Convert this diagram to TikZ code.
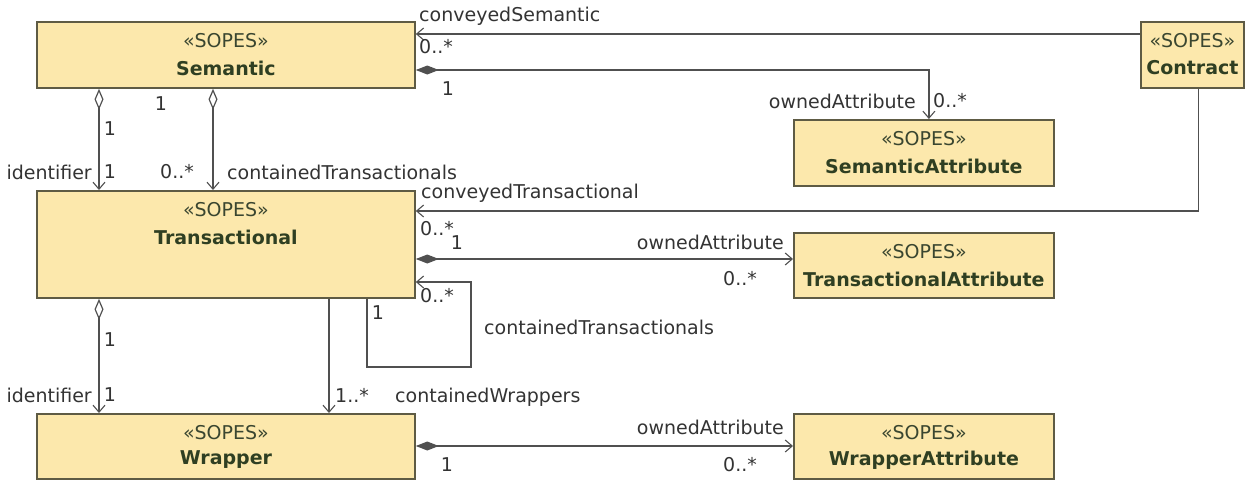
\documentclass[tikz,border=0pt]{standalone}
\usepackage{fontspec}
\setmainfont{DejaVu Sans}
\usetikzlibrary{arrows.meta,calc}
\definecolor{boxfill}{HTML}{FCE8AC}
\definecolor{boxline}{HTML}{5E5B44}
\definecolor{linecol}{HTML}{505050}
\definecolor{namecol}{HTML}{2F3F22}
\definecolor{stcol}{HTML}{3A4630}
\definecolor{lblcol}{HTML}{333333}
\begin{document}
\begin{tikzpicture}[x=1pt,y=-1pt,
  font=\fontsize{19}{22}\selectfont,
  umlbox/.style={draw=boxline, line width=1.8pt, fill=boxfill, inner sep=0pt, anchor=north west},
  st/.style={text=stcol, inner sep=0pt},
  nm/.style={text=namecol, inner sep=0pt, font=\fontsize{19}{22}\selectfont\bfseries},
  lbl/.style={text=lblcol, inner sep=0pt},
  conn/.style={draw=linecol, line width=1.4pt},
  opn/.style={conn, -{Straight Barb[length=7pt,width=12pt,line width=1.1pt]}},
  aggr/.style={conn, {Diamond[open,length=21pt,width=9pt,line width=1.2pt]}-{Straight Barb[length=7pt,width=12pt,line width=1.1pt]}},
  comp/.style={conn, {Diamond[length=23pt,width=9pt]}-{Straight Barb[length=7pt,width=12pt,line width=1.1pt]}}
]
\useasboundingbox (0,0) rectangle (1249,480);

% boxes
\node[umlbox, minimum width=378pt, minimum height=66pt] (sem) at (36,21) {};
\node[umlbox, minimum width=378pt, minimum height=107pt] (tra) at (36,190) {};
\node[umlbox, minimum width=378pt, minimum height=65pt] (wra) at (36,413) {};
\node[umlbox, minimum width=103pt, minimum height=66pt] (con) at (1140,21) {};
\node[umlbox, minimum width=260pt, minimum height=66pt] (sa) at (793,119) {};
\node[umlbox, minimum width=260pt, minimum height=65pt] (ta) at (793,232) {};
\node[umlbox, minimum width=260pt, minimum height=65pt] (wa) at (793,413) {};

% box texts
\foreach \b/\n in {sem/Semantic, tra/Transactional, wra/Wrapper, con/Contract, sa/SemanticAttribute, ta/TransactionalAttribute, wa/WrapperAttribute}{
  \node[st] (\b-st) at ($(\b.north)+(0,20)$) {«SOPES»};
  \node[nm] (\b-nm) at ($(\b.north)+(0,47)$) {\n};
}

% conveyedSemantic
\draw[opn] ($(con.north west)+(0,13)$) -- ($(sem.north east)+(0,13)$);
\node[lbl, anchor=west] (l1) at (419,16) {conveyedSemantic};
\node[lbl, anchor=west] (l2) at (419,47) {0..*};

% Semantic -> SemanticAttribute
\draw[comp] ($(sem.north east)+(0,49)$) -| ($(sa.north)+(5,0)$);
\node[lbl] (l3) at (448,89) {1};
\node[lbl, anchor=east] (l4) at (916,101) {ownedAttribute};
\node[lbl, anchor=west] (l5) at (933,101) {0..*};

% Semantic -> Transactional (identifier)
\draw[aggr] ($(sem.south west)+(63,0)$) -- ($(tra.north west)+(63,0)$);
\node[lbl] (l6) at (110,129) {1};
\node[lbl, anchor=east] (l7) at (92,172) {identifier};
\node[lbl] (l8) at (110,172) {1};

% Semantic -> Transactional (containedTransactionals)
\draw[aggr] ($(sem.south west)+(177,0)$) -- ($(tra.north west)+(177,0)$);
\node[lbl] (l9) at (161,104) {1};
\node[lbl] (l10) at (177,172) {0..*};
\node[lbl, anchor=west] (l11) at (227,172) {containedTransactionals};

% conveyedTransactional
\draw[opn] ($(con.south)+(6,0)$) |- ($(tra.north east)+(0,21)$);
\node[lbl, anchor=west] (l12) at (421,193) {conveyedTransactional};
\node[lbl, anchor=west] (l13) at (420,229) {0..*};

% Transactional -> TransactionalAttribute
\draw[comp] ($(tra.north east)+(0,69)$) -- ($(ta.north west)+(0,27)$);
\node[lbl] (l14) at (457,243) {1};
\node[lbl, anchor=east] (l15) at (784,242) {ownedAttribute};
\node[lbl] (l16) at (740,279) {0..*};

% self loop
\draw[opn] ($(tra.south west)+(331,0)$) -- ++(0,68) -- ++(104,0) |- ($(tra.north east)+(0,92)$);
\node[lbl] (l17) at (378,313) {1};
\node[lbl, anchor=west] (l18) at (420,296) {0..*};
\node[lbl, anchor=west] (l19) at (484,327) {containedTransactionals};

% Transactional -> Wrapper (identifier)
\draw[aggr] ($(tra.south west)+(63,0)$) -- ($(wra.north west)+(63,0)$);
\node[lbl] (l20) at (110,340) {1};
\node[lbl, anchor=east] (l21) at (92,395) {identifier};
\node[lbl] (l22) at (110,395) {1};

% Transactional -> Wrapper (containedWrappers)
\draw[opn] ($(tra.south west)+(293,0)$) -- ($(wra.north west)+(293,0)$);
\node[lbl, anchor=west] (l23) at (335,395) {1..*};
\node[lbl, anchor=west] (l24) at (395,397) {containedWrappers};

% Wrapper -> WrapperAttribute
\draw[comp] ($(wra.north east)+(0,33)$) -- ($(wa.north west)+(0,33)$);
\node[lbl] (l25) at (447,465) {1};
\node[lbl, anchor=east] (l26) at (784,427) {ownedAttribute};
\node[lbl] (l27) at (740,465) {0..*};
\end{tikzpicture}
\end{document}
